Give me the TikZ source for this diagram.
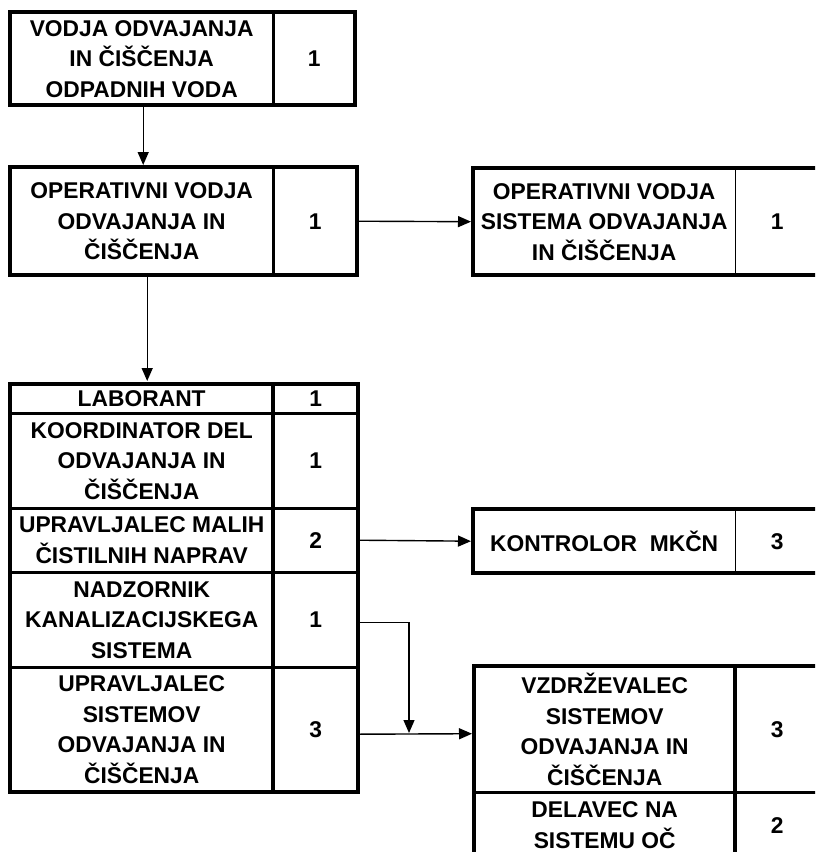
\documentclass[tikz,border=0pt]{standalone}
\usepackage{fontspec}
\setmainfont{Liberation Sans}
\usetikzlibrary{arrows.meta,calc}
\begin{document}
\begin{tikzpicture}[x=1pt,y=-1pt,
 cell/.style={rectangle, inner sep=0pt, anchor=north west, align=center,
   font=\fontsize{22.8pt}{30.5pt}\selectfont\bfseries},
 frame/.style={line width=4pt},
 divthin/.style={line width=1.6pt},
 divmid/.style={line width=2.6pt},
 divthick/.style={line width=4pt},
 rowline/.style={line width=3pt},
 arr/.style={line width=1.4pt, -{Triangle[length=13pt,width=11pt]}},
]
\useasboundingbox (0,0) rectangle (815,852);
\clip (0,0) rectangle (815,852);

% box 1
\node[cell, minimum width=263pt, minimum height=93pt] (b1) at (10,12) {VODJA ODVAJANJA\\IN ČIŠČENJA\\ODPADNIH VODA};
\node[cell, minimum width=82pt, minimum height=93pt] (b1n) at (273,12) {1};
\draw[frame] (b1.north west) rectangle (b1n.south east);
\draw[divmid] (b1.north east) -- (b1.south east);

% box 2
\node[cell, minimum width=263pt, minimum height=108pt] (b2) at (10,167) {OPERATIVNI VODJA\\ODVAJANJA IN\\ČIŠČENJA};
\node[cell, minimum width=84pt, minimum height=108pt] (b2n) at (273,167) {1};
\draw[frame] (b2.north west) rectangle (b2n.south east);
\draw[divmid] (b2.north east) -- (b2.south east);

% right box 1
\node[cell, minimum width=262pt, minimum height=107pt] (r1) at (473,168) {OPERATIVNI VODJA\\SISTEMA ODVAJANJA\\IN ČIŠČENJA};
\node[cell, minimum width=84pt, minimum height=107pt] (r1n) at (735,168) {1};
\draw[frame] (r1.north west) rectangle (r1n.south east);
\draw[divthin] (r1.north east) -- (r1.south east);

% stack
\node[cell, minimum width=263pt, minimum height=29pt] (lab) at (10,384) {LABORANT};
\node[cell, minimum width=85pt, minimum height=29pt] (labn) at (273,384) {1};
\node[cell, minimum width=263pt, minimum height=95pt] (koo) at (10,413) {KOORDINATOR DEL\\ODVAJANJA IN\\ČIŠČENJA};
\node[cell, minimum width=85pt, minimum height=95pt] (koon) at (273,413) {1};
\node[cell, minimum width=263pt, minimum height=64pt] (upr) at (10,508) {UPRAVLJALEC MALIH\\ČISTILNIH NAPRAV};
\node[cell, minimum width=85pt, minimum height=64pt] (uprn) at (273,508) {2};
\node[cell, minimum width=263pt, minimum height=95pt] (nad) at (10,572) {NADZORNIK\\KANALIZACIJSKEGA\\SISTEMA};
\node[cell, minimum width=85pt, minimum height=95pt] (nadn) at (273,572) {1};
\node[cell, minimum width=263pt, minimum height=125pt] (us) at (10,667) {UPRAVLJALEC\\SISTEMOV\\ODVAJANJA IN\\ČIŠČENJA};
\node[cell, minimum width=85pt, minimum height=125pt] (usn) at (273,667) {3};
\draw[frame] (lab.north west) rectangle (usn.south east);
\foreach \r in {lab,koo,upr,nad}{\draw[rowline] (\r.south west) -- (\r n.south east);}
\draw[divthick] (lab.north east) -- (us.south east);

% kontrolor
\node[cell, minimum width=262pt, minimum height=64pt] (k) at (473,509) {KONTROLOR\hspace{0.556em}MKČN};
\node[cell, minimum width=84pt, minimum height=64pt] (kn) at (735,509) {3};
\draw[frame] (k.north west) rectangle (kn.south east);
\draw[divthin] (k.north east) -- (k.south east);

% vzdrzevalec / delavec
\node[cell, minimum width=261pt, minimum height=126pt] (vz) at (474,666) {VZDRŽEVALEC\\SISTEMOV\\ODVAJANJA IN\\ČIŠČENJA};
\node[cell, minimum width=84pt, minimum height=126pt] (vzn) at (735,666) {3};
\node[cell, minimum width=261pt, minimum height=66pt] (del) at (474,792) {DELAVEC NA\\SISTEMU OČ};
\node[cell, minimum width=84pt, minimum height=66pt] (deln) at (735,792) {2};
\draw[frame] (vz.north west) rectangle (deln.south east);
\draw[rowline] (vz.south west) -- (vzn.south east);
\draw[divthick] (vz.north east) -- (del.south east);

% connectors
\draw[arr, shorten >=2pt] ([xshift=1.5pt]b1.south) -- ([xshift=1.5pt]b2.north);
\draw[arr, shorten >=3pt] ([xshift=5.5pt]b2.south) -- ([xshift=5.5pt]lab.north);
\draw[arr, shorten >=2pt] (b2n.east) -- (r1.west);
\draw[arr, shorten >=2pt] (uprn.east) -- (k.west);
\coordinate (j) at (409,734);
\draw[arr, line width=1.2pt, shorten >=1pt] ([yshift=-2.5pt]nadn.east) -| (j);
\draw[arr, shorten >=2pt] ([yshift=-4.5pt]usn.east) -- ([yshift=-4.5pt]vz.west);
\end{tikzpicture}
\end{document}
